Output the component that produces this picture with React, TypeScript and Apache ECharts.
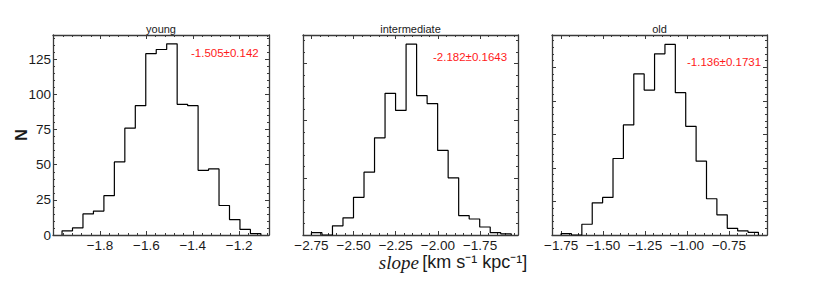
import React, { useEffect, useRef } from "react";
import * as echarts from "echarts";

// ---- data ----
const panelTitles = ["young", "intermediate", "old"];
const slopeStats = ["-1.505±0.142", "-2.182±0.1643", "-1.136±0.1731"];
const youngCounts = [3, 5, 15, 17, 28, 52, 76, 92, 129, 132, 136, 93, 92, 46, 47, 21, 11, 4, 1];
const intermediateCounts = [2, 0, 8, 15, 33, 55, 85, 124, 109, 167, 122, 115, 74, 50, 17, 14, 7, 2, 1];
const oldCounts = [1, 0, 8, 24, 28, 57, 82, 120, 108, 135, 142, 106, 81, 55, 27, 15, 5, 3, 2];
const binLow = [-1.964, -2.75, -1.75];
const binHigh = [-1.106, -1.565, -0.575];
const youngXTicks = [-1.8, -1.6, -1.4, -1.2];
const intermediateXTicks = [-2.75, -2.5, -2.25, -2.0, -1.75];
const oldXTicks = [-1.75, -1.5, -1.25, -1.0, -0.75];
const youngYTicks = [0, 25, 50, 75, 100, 125];
const intermediateYTicks = [0, 50, 100, 150];
const oldYTicks = [0, 25, 50, 75, 100, 125];

const countsList = [youngCounts, intermediateCounts, oldCounts];
const xTicksList = [youngXTicks, intermediateXTicks, oldXTicks];
const yTicksList = [youngYTicks, intermediateYTicks, oldYTicks];

// ---- layout ----
const grids = [
  { left: 53, top: 35, width: 216, height: 200 },
  { left: 303, top: 35, width: 215, height: 200 },
  { left: 552, top: 35, width: 215, height: 200 },
];
const xRanges = [
  [-2.003, -1.071],
  [-2.8, -1.525],
  [-1.804, -0.524],
];
const yMax = [142.3, 175, 149];
const xMinorStep = [0.04, 0.05, 0.05];
const yMinorStep = [5, 10, 5];
const xDecimals = [1, 2, 2];
const statPos = [
  [191, 53],
  [433, 57],
  [687, 62],
];

const FRAME = "#3a3a3a";
const FONT = "'Liberation Sans', Arial, Helvetica, sans-serif";

function steps(lo: number, hi: number, step: number): number[] {
  const out: number[] = [];
  const start = Math.ceil(lo / step - 1e-9) * step;
  for (let v = start; v <= hi + 1e-9; v += step) out.push(Math.round(v * 10000) / 10000);
  return out;
}

function fmtMinus(v: number, d: number) {
  return v.toFixed(d).replace("-", "\u2212");
}

function buildOption() {
  const xAxis: any[] = [];
  const yAxis: any[] = [];
  const series: any[] = [];
  const graphic: any[] = [];

  for (let i = 0; i < 3; i++) {
    const [xmin, xmax] = xRanges[i];
    const xMinor = steps(xmin, xmax, xMinorStep[i]);
    const yMinor = steps(0, yMax[i], yMinorStep[i]);
    const majX = xTicksList[i];
    const majY = yTicksList[i];
    const baseX = {
      type: "value",
      gridIndex: i,
      min: xmin,
      max: xmax,
      splitLine: { show: false },
    };
    const baseY = {
      type: "value",
      gridIndex: i,
      min: 0,
      max: yMax[i],
      splitLine: { show: false },
    };
    xAxis.push({
      ...baseX,
      position: "bottom",
      axisLine: { show: true, onZero: false, lineStyle: { color: FRAME, width: 1.3 } },
      axisTick: { show: true, inside: true, length: 4, customValues: majX, lineStyle: { color: FRAME } },
      axisLabel: {
        show: true,
        customValues: majX,
        formatter: (v: number) => fmtMinus(v, xDecimals[i]),
        color: "#1a1a1a",
        fontSize: 13.5,
        lineHeight: 14,
        fontFamily: FONT,
        margin: 3,
      },
    });
    xAxis.push({
      ...baseX,
      position: "bottom",
      axisLine: { show: false, onZero: false },
      axisTick: { show: true, inside: true, length: 2, customValues: xMinor, lineStyle: { color: FRAME } },
      axisLabel: { show: false },
    });
    xAxis.push({
      ...baseX,
      position: "top",
      axisLine: { show: true, onZero: false, lineStyle: { color: FRAME, width: 1.3 } },
      axisTick: { show: true, inside: true, length: 4, customValues: majX, lineStyle: { color: FRAME } },
      axisLabel: { show: false },
    });
    xAxis.push({
      ...baseX,
      position: "top",
      axisLine: { show: false, onZero: false },
      axisTick: { show: true, inside: true, length: 2, customValues: xMinor, lineStyle: { color: FRAME } },
      axisLabel: { show: false },
    });
    yAxis.push({
      ...baseY,
      position: "left",
      axisLine: { show: true, onZero: false, lineStyle: { color: FRAME, width: 1.3 } },
      axisTick: { show: true, inside: true, length: 4, customValues: majY, lineStyle: { color: FRAME } },
      axisLabel: {
        show: i === 0,
        customValues: majY,
        color: "#1a1a1a",
        fontSize: 13.5,
        fontFamily: FONT,
        margin: 2,
      },
    });
    yAxis.push({
      ...baseY,
      position: "left",
      axisLine: { show: false, onZero: false },
      axisTick: { show: true, inside: true, length: 2, customValues: yMinor, lineStyle: { color: FRAME } },
      axisLabel: { show: false },
    });
    yAxis.push({
      ...baseY,
      position: "right",
      axisLine: { show: true, onZero: false, lineStyle: { color: FRAME, width: 1.3 } },
      axisTick: { show: true, inside: true, length: 4, customValues: majY, lineStyle: { color: FRAME } },
      axisLabel: { show: false },
    });
    yAxis.push({
      ...baseY,
      position: "right",
      axisLine: { show: false, onZero: false },
      axisTick: { show: true, inside: true, length: 2, customValues: yMinor, lineStyle: { color: FRAME } },
      axisLabel: { show: false },
    });

    const counts = countsList[i];
    const n = counts.length;
    const w = (binHigh[i] - binLow[i]) / n;
    const pts: number[][] = [[binLow[i], 0]];
    for (let k = 0; k < n; k++) {
      const e0 = binLow[i] + k * w;
      const e1 = binLow[i] + (k + 1) * w;
      pts.push([e0, counts[k]]);
      pts.push([e1, counts[k]]);
    }
    pts.push([binHigh[i], 0]);
    series.push({
      type: "line",
      xAxisIndex: i * 4,
      yAxisIndex: i * 4,
      data: pts,
      showSymbol: false,
      symbol: "none",
      clip: true,
      lineStyle: { color: "#000", width: 1.2 },
      z: 1,
    });

    const g = grids[i];
    graphic.push({
      type: "text",
      x: g.left + g.width / 2,
      y: g.top - 1,
      style: {
        text: panelTitles[i],
        fill: "#1a1a1a",
        font: `11px ${FONT}`,
        align: "center",
        verticalAlign: "bottom",
      },
    });
    graphic.push({
      type: "text",
      x: statPos[i][0],
      y: statPos[i][1],
      style: {
        text: slopeStats[i],
        fill: "#ff1a1a",
        font: `11.5px ${FONT}`,
        align: "left",
        verticalAlign: "middle",
      },
    });
  }

  graphic.push({
    type: "text",
    x: 21,
    y: 135,
    rotation: Math.PI / 2,
    style: {
      text: "N",
      fill: "#1a1a1a",
      font: `bold 16px ${FONT}`,
      align: "center",
      verticalAlign: "middle",
    },
  });
  graphic.push({
    type: "text",
    x: 453,
    y: 262,
    style: {
      text: "{i|slope} {n|[km s\u207B\u00B9 kpc\u207B\u00B9]}",
      align: "center",
      verticalAlign: "middle",
      rich: {
        i: {
          fontFamily: "'Liberation Serif', 'DejaVu Serif', serif",
          fontStyle: "italic",
          fontSize: 19,
          fill: "#1a1a1a",
          lineHeight: 17,
        },
        n: { fontFamily: FONT, fontSize: 18, fill: "#1a1a1a", lineHeight: 17 },
      },
    },
  });

  return {
    animation: false,
    backgroundColor: "#ffffff",
    grid: grids.map((g) => ({ ...g, containLabel: false })),
    xAxis,
    yAxis,
    series,
    graphic,
  };
}

export default function App() {
  const ref = useRef<HTMLDivElement>(null);
  useEffect(() => {
    if (!ref.current) return;
    const chart = echarts.init(ref.current, undefined, { renderer: "svg" });
    chart.setOption(buildOption() as any);
    return () => chart.dispose();
  }, []);
  return (
    <div
      ref={ref}
      style={{ position: "absolute", left: 0, top: 0, width: 830, height: 287, background: "#fff" }}
    />
  );
}
